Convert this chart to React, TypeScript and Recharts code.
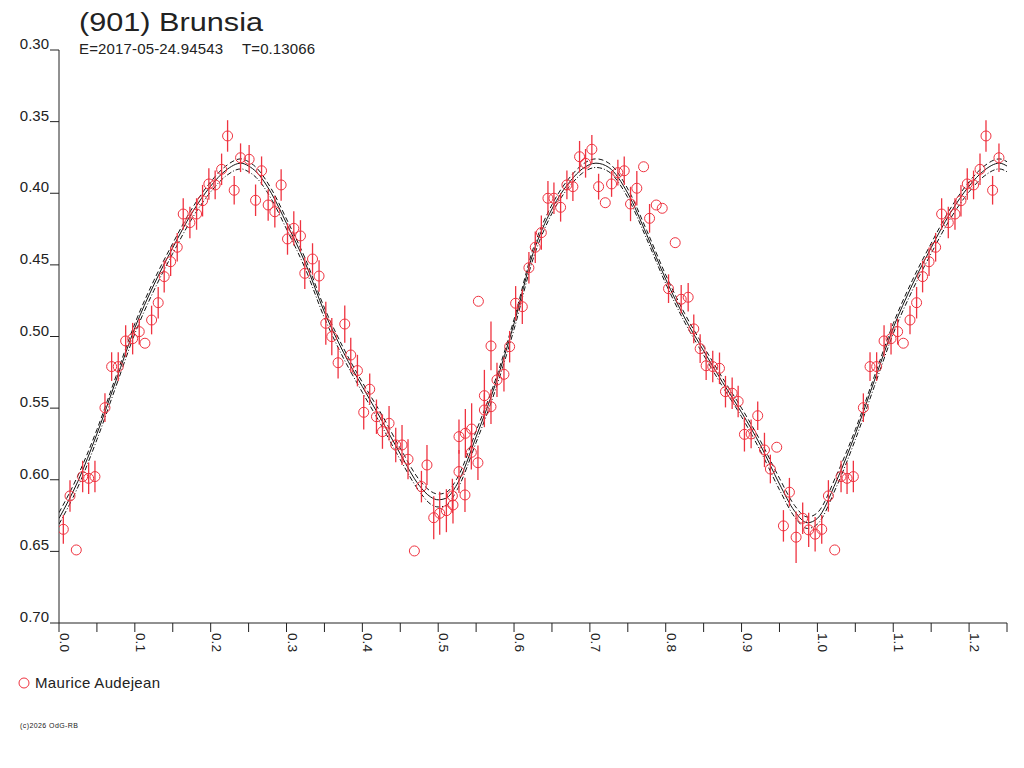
import { ComposedChart, Line, Scatter, ErrorBar, XAxis, YAxis } from 'recharts';

// observations (phase, reduced magnitude, 1-sigma error); 0 = no error bar drawn
const obsPhase = [
  0.0057, 0.0145, 0.0228, 0.0312, 0.0391, 0.0474, 0.0606, 0.0694, 0.0781, 0.0879,
  0.0971, 0.1058, 0.1133, 0.1221, 0.1308, 0.1387, 0.1472, 0.1559, 0.1638, 0.1726,
  0.1814, 0.1893, 0.1976, 0.2059, 0.2144, 0.2223, 0.231, 0.2394, 0.2507, 0.2592,
  0.2671, 0.2758, 0.2846, 0.2929, 0.3013, 0.3096, 0.3184, 0.3241, 0.3343, 0.3429,
  0.3518, 0.3597, 0.368, 0.3768, 0.3847, 0.3935, 0.4018, 0.4097, 0.4186, 0.4265,
  0.4352, 0.444, 0.4523, 0.4602, 0.4686, 0.4779, 0.4852, 0.4941, 0.502, 0.5108,
  0.5187, 0.5195, 0.5274, 0.5274, 0.5353, 0.5358, 0.5437, 0.5441, 0.5524, 0.553,
  0.5609, 0.5609, 0.5696, 0.5696, 0.5775, 0.5867, 0.5942, 0.6021, 0.6109, 0.6196,
  0.628, 0.636, 0.6447, 0.6526, 0.6614, 0.6697, 0.6776, 0.6864, 0.6943, 0.7026,
  0.7115, 0.7203, 0.7286, 0.7369, 0.7453, 0.7536, 0.7619, 0.7708, 0.7787, 0.7875,
  0.7954, 0.8037, 0.8125, 0.8204, 0.8296, 0.837, 0.8454, 0.8533, 0.862, 0.8709,
  0.8788, 0.8876, 0.8955, 0.9038, 0.9126, 0.9213, 0.9302, 0.938, 0.9464, 0.9552,
  0.9631, 0.9719, 0.9806, 0.9885, 0.997,
];
const obsMag = [
  0.6346, 0.6113, 0.649, 0.5978, 0.599, 0.5978, 0.5497, 0.521, 0.521, 0.5031,
  0.5015, 0.4966, 0.5047, 0.4885, 0.4764, 0.4582, 0.4478, 0.4377, 0.4145, 0.4205,
  0.4145, 0.4052, 0.3935, 0.3942, 0.3833, 0.36, 0.3979, 0.3752, 0.3763, 0.4049,
  0.3843, 0.4082, 0.4129, 0.3942, 0.4319, 0.4245, 0.4298, 0.4559, 0.4459, 0.4578,
  0.4908, 0.5001, 0.5183, 0.4913, 0.5129, 0.5238, 0.5529, 0.5368, 0.556, 0.5664,
  0.5606, 0.5757, 0.5757, 0.5857, 0.6497, 0.6048, 0.5897, 0.6265, 0.6234, 0.6216,
  0.6113, 0.6176, 0.5943, 0.5699, 0.6106, 0.5676, 0.5809, 0.5646, 0.5881, 0.4754,
  0.5413, 0.5513, 0.549, 0.5066, 0.5303, 0.5264, 0.5071, 0.4768, 0.4792, 0.452,
  0.4377, 0.4275, 0.4035, 0.4035, 0.4098, 0.3942, 0.3954, 0.3745, 0.3791, 0.3693,
  0.3954, 0.4066, 0.3935, 0.3856, 0.3843, 0.4075, 0.3965, 0.3815, 0.4175, 0.4082,
  0.4105, 0.4666, 0.4345, 0.474, 0.4726, 0.4947, 0.5085, 0.5204, 0.521, 0.5222,
  0.5385, 0.5396, 0.5453, 0.5683, 0.568, 0.5553, 0.5792, 0.5925, 0.5773, 0.6322,
  0.6087, 0.6401, 0.6269, 0.635, 0.638,
];
const obsErr = [
  0.01, 0.011, 0, 0.011, 0.011, 0.011, 0.01, 0.01, 0.01, 0.011,
  0.011, 0.009, 0, 0.01, 0.011, 0.011, 0.01, 0.01, 0.011, 0.011,
  0.011, 0.011, 0.011, 0.01, 0.011, 0.011, 0.01, 0.01, 0.01, 0.011,
  0.01, 0.011, 0.011, 0.011, 0.011, 0.012, 0.011, 0.011, 0.011, 0.011,
  0.015, 0.013, 0.011, 0.013, 0.012, 0.011, 0.012, 0.011, 0.012, 0.012,
  0.012, 0.012, 0.014, 0.014, 0, 0.011, 0.014, 0.015, 0.015, 0.015,
  0.012, 0.013, 0.015, 0.012, 0.012, 0.017, 0.012, 0.018, 0.012, 0,
  0.018, 0.012, 0.012, 0.017, 0.012, 0.012, 0.011, 0.012, 0.012, 0.011,
  0.011, 0.012, 0.012, 0.011, 0.01, 0.01, 0.01, 0.011, 0.01, 0.01,
  0.009, 0, 0.009, 0.009, 0.01, 0.012, 0.012, 0, 0.01, 0,
  0, 0.01, 0, 0.01, 0.01, 0.01, 0.01, 0.01, 0.011, 0.011,
  0.011, 0.011, 0.011, 0.012, 0.01, 0.01, 0.012, 0.01, 0, 0.011,
  0.01, 0.018, 0.011, 0.012, 0.012,
];

// fitted curve and its envelope, read at these phases
const fitPhase = [
  0, 0.025, 0.05, 0.075, 0.1, 0.125, 0.15, 0.175, 0.2, 0.22, 0.24, 0.25, 0.26, 0.28,
  0.3, 0.325, 0.35, 0.375, 0.4, 0.425, 0.45, 0.475, 0.49, 0.5, 0.51, 0.525, 0.55,
  0.575, 0.6, 0.625, 0.65, 0.675, 0.69, 0.708, 0.725, 0.75, 0.775, 0.8, 0.825, 0.85,
  0.875, 0.9, 0.925, 0.95, 0.97, 0.987,
];
const fitMid = [
  0.627, 0.601, 0.568, 0.531, 0.494, 0.464, 0.438, 0.414, 0.395, 0.384, 0.379, 0.381, 0.385, 0.4,
  0.421, 0.449, 0.483, 0.511, 0.535, 0.558, 0.582, 0.604, 0.612, 0.614, 0.613, 0.603, 0.57,
  0.534, 0.491, 0.442, 0.411, 0.391, 0.383, 0.379, 0.382, 0.4, 0.429, 0.46, 0.487, 0.51,
  0.532, 0.553, 0.576, 0.603, 0.622, 0.63,
];
const fitUpper = [
  0.623, 0.597, 0.565, 0.528, 0.491, 0.461, 0.435, 0.411, 0.392, 0.381, 0.376, 0.378, 0.382, 0.397,
  0.418, 0.446, 0.48, 0.508, 0.532, 0.554, 0.578, 0.6, 0.608, 0.61, 0.609, 0.599, 0.566,
  0.531, 0.488, 0.439, 0.408, 0.388, 0.38, 0.376, 0.379, 0.397, 0.426, 0.457, 0.484, 0.507,
  0.529, 0.55, 0.573, 0.599, 0.618, 0.626,
];
const fitLower = [
  0.631, 0.605, 0.572, 0.535, 0.498, 0.468, 0.442, 0.418, 0.399, 0.388, 0.383, 0.385, 0.389, 0.404,
  0.425, 0.453, 0.487, 0.515, 0.539, 0.562, 0.586, 0.608, 0.617, 0.619, 0.618, 0.607, 0.574,
  0.538, 0.495, 0.446, 0.414, 0.394, 0.386, 0.382, 0.385, 0.403, 0.432, 0.463, 0.49, 0.513,
  0.535, 0.556, 0.58, 0.607, 0.626, 0.634,
];

const xTicks = [
  0, 0.05, 0.1, 0.15, 0.2, 0.25, 0.3, 0.35, 0.4, 0.45, 0.5, 0.55, 0.6, 0.65,
  0.7, 0.75, 0.8, 0.85, 0.9, 0.95, 1.0, 1.05, 1.1, 1.15, 1.2, 1.25,
];
const yTicks = [0.3, 0.35, 0.4, 0.45, 0.5, 0.55, 0.6, 0.65, 0.7];

const RED = '#ef3340';
const INK = '#222';
const FONT = '"Liberation Sans", Arial, sans-serif';
const WRAP = 0.25; // phases up to this are drawn a second time after 1.0

const obsRows = obsPhase.flatMap((p, i) => {
  const row = { phase: p, mag: obsMag[i], err: obsErr[i] };
  return p <= WRAP ? [row, { ...row, phase: p + 1 }] : [row];
});

const fitRows = fitPhase
  .flatMap((p, i) => {
    const row = { phase: p, mid: fitMid[i], up: fitUpper[i], lo: fitLower[i] };
    return p <= WRAP ? [row, { ...row, phase: p + 1 }] : [row];
  })
  .sort((a, b) => a.phase - b.phase);

const XTick = ({ x, y, payload }: any) => {
  const v = payload.value;
  if (Math.round(v * 20) % 2 !== 0) return null;
  return (
    <text
      transform={`translate(${x + 1},${y}) rotate(90)`}
      fontSize={13}
      fontFamily={FONT}
      fill={INK}
      textLength={19}
      lengthAdjust="spacingAndGlyphs"
    >
      {v.toFixed(1)}
    </text>
  );
};

const YTick = ({ x, y, payload }: any) => (
  <text x={x} y={y - 1} textAnchor="end" fontSize={15} fontFamily={FONT} fill={INK}>
    {payload.value.toFixed(2)}
  </text>
);

const Ring = ({ cx, cy }: any) => (
  <circle cx={cx} cy={cy} r={5} fill="none" stroke={RED} strokeWidth={1} />
);

export default function App() {
  return (
    <div style={{ position: 'absolute', left: 0, top: 0, width: 1024, height: 768, background: '#fff' }}>
      <ComposedChart width={1024} height={768} margin={{ top: 50, right: 17, bottom: 105, left: 0 }}>
        <XAxis
          dataKey="phase"
          type="number"
          domain={[0, 1.25]}
          ticks={xTicks}
          interval={0}
          tickSize={9}
          tickMargin={1}
          height={40}
          stroke={INK}
          tick={(p: any) => <XTick {...p} />}
          allowDataOverflow
        />
        <YAxis
          type="number"
          domain={[0.3, 0.7]}
          reversed
          ticks={yTicks}
          interval={0}
          tickSize={9}
          tickMargin={1}
          width={59}
          stroke={INK}
          tick={(p: any) => <YTick {...p} />}
          allowDataOverflow
        />
        <Line data={fitRows} dataKey="up" type="monotone" stroke="#111" strokeWidth={1} strokeDasharray="5 3" dot={false} isAnimationActive={false} />
        <Line data={fitRows} dataKey="lo" type="monotone" stroke="#111" strokeWidth={1} strokeDasharray="5 2 1 2" dot={false} isAnimationActive={false} />
        <Line data={fitRows} dataKey="mid" type="monotone" stroke="#111" strokeWidth={1} dot={false} isAnimationActive={false} />
        <Scatter data={obsRows} dataKey="mag" shape={Ring} isAnimationActive={false}>
          <ErrorBar dataKey="err" direction="y" width={0} stroke={RED} strokeWidth={1.3} />
        </Scatter>
      </ComposedChart>
      <svg width={1024} height={768} style={{ position: 'absolute', left: 0, top: 0, pointerEvents: 'none' }}>
        <text x={79} y={31} fontSize={25} fontFamily={FONT} fill={INK} textLength={184} lengthAdjust="spacingAndGlyphs">
          (901) Brunsia
        </text>
        <text x={79} y={54} fontSize={15} fontFamily={FONT} fill={INK} textLength={144}>
          E=2017-05-24.94543
        </text>
        <text x={242} y={54} fontSize={15} fontFamily={FONT} fill={INK} textLength={73}>
          T=0.13066
        </text>
        <circle cx={24} cy={683} r={5} fill="none" stroke={RED} strokeWidth={1} />
        <text x={35} y={688} fontSize={15} fontFamily={FONT} fill={INK} textLength={125}>
          Maurice Audejean
        </text>
        <text x={20} y={728} fontSize={7} fontFamily={FONT} fill={INK} textLength={58}>
          (c)2026 OdG-RB
        </text>
      </svg>
    </div>
  );
}
